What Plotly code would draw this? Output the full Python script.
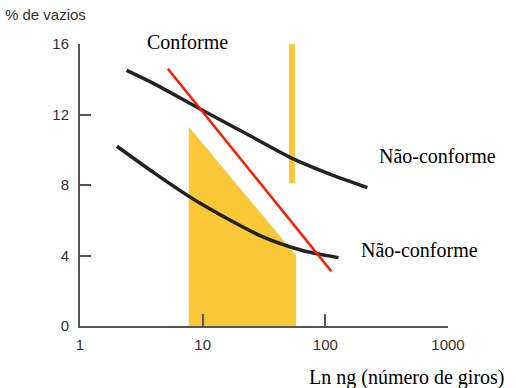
import plotly.graph_objects as go

# Curves of void content versus number of gyrations (log scale)
upper_x = [2.4, 4.0, 9.6, 25, 56, 120, 220]
upper_y = [14.5, 13.75, 12.3, 10.75, 9.45, 8.5, 7.85]

lower_x = [2.0, 4.0, 9.1, 30, 64, 128]
lower_y = [10.2, 8.7, 7.05, 5.1, 4.3, 3.88]

# Limit line
limit_x = [5.2, 112]
limit_y = [14.6, 3.1]

# Conforming zone (filled polygon)
zone_x = [7.7, 7.7, 57.8, 57.8]
zone_y = [0.0, 11.3, 4.0, 0.0]

# Upper marker bar
bar_x = [50.5, 50.5, 56.5, 56.5]
bar_y = [8.1, 16.1, 16.1, 8.1]

x_ticks = [1, 10, 100, 1000]
x_tick_text = ["1", "10", "100", "1000"]
y_ticks = [0, 4, 8, 12, 16]

YELLOW = "#F9C737"

fig = go.Figure()

fig.add_trace(go.Scatter(x=zone_x, y=zone_y, mode="lines", fill="toself",
                         fillcolor=YELLOW, line=dict(width=0),
                         hoverinfo="skip"))
fig.add_trace(go.Scatter(x=bar_x, y=bar_y, mode="lines", fill="toself",
                         fillcolor=YELLOW, line=dict(width=0),
                         hoverinfo="skip"))
fig.add_trace(go.Scatter(x=upper_x, y=upper_y, mode="lines",
                         line=dict(color="#222222", width=3.5, shape="spline",
                                   smoothing=0.8)))
fig.add_trace(go.Scatter(x=lower_x, y=lower_y, mode="lines",
                         line=dict(color="#222222", width=3.5, shape="spline",
                                   smoothing=0.8)))
fig.add_trace(go.Scatter(x=limit_x, y=limit_y, mode="lines",
                         line=dict(color="#FF1A00", width=2.5)))

serif = "Liberation Serif, Times New Roman, serif"
sans = "Liberation Sans, Arial, sans-serif"

def px_x(px):
    return (px - 80) / 368.0

def px_y(py):
    return (326 - py) / 282.0

annotations = [
    dict(text="% de vazios", x=px_x(3), y=px_y(15), xanchor="left", yanchor="middle",
         font=dict(family=sans, size=15, color="#333333")),
    dict(text="Conforme", x=px_x(145), y=px_y(42), xanchor="left", yanchor="middle",
         font=dict(family=serif, size=20, color="#000000")),
    dict(text="Não-conforme", x=px_x(377), y=px_y(156), xanchor="left", yanchor="middle",
         font=dict(family=serif, size=20, color="#000000")),
    dict(text="Não-conforme", x=px_x(359), y=px_y(250), xanchor="left", yanchor="middle",
         font=dict(family=serif, size=20, color="#000000")),
    dict(text="Ln ng (número de giros)", x=px_x(307), y=px_y(377), xanchor="left",
         yanchor="middle", font=dict(family=serif, size=20, color="#000000")),
]
for a in annotations:
    a.update(xref="paper", yref="paper", showarrow=False)

fig.update_layout(
    width=516, height=388,
    margin=dict(l=80, r=68, t=44, b=62),
    paper_bgcolor="white", plot_bgcolor="white",
    showlegend=False,
    annotations=annotations,
    xaxis=dict(type="log", range=[0, 3], tickvals=x_ticks, ticktext=x_tick_text,
               showline=True, linecolor="#555555", linewidth=2,
               ticks="inside", ticklen=12, tickwidth=2, tickcolor="#555555",
               showgrid=False, zeroline=False, ticklabelstandoff=4,
               tickfont=dict(family=sans, size=15, color="#333333")),
    yaxis=dict(range=[0, 16], tickvals=y_ticks,
               showline=True, linecolor="#555555", linewidth=2,
               ticks="inside", ticklen=11, tickwidth=2, tickcolor="#555555",
               showgrid=False, zeroline=False, ticklabelstandoff=6,
               tickfont=dict(family=sans, size=15, color="#333333")),
)

fig.write_html("out.html")
